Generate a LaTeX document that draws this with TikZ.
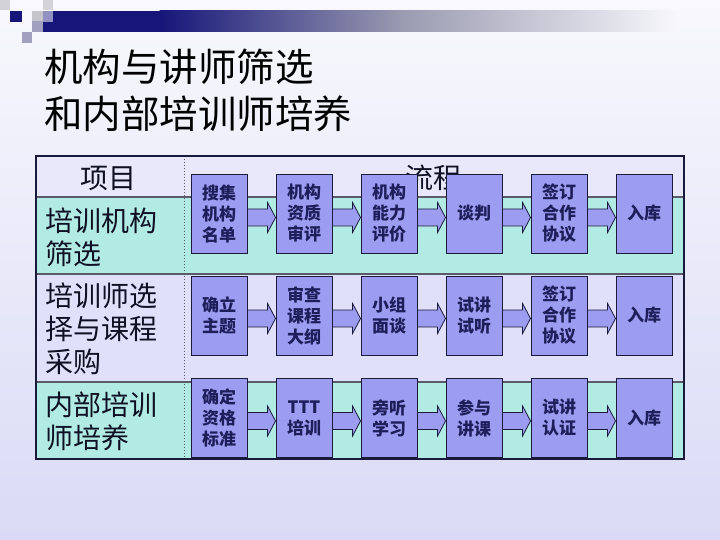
\documentclass[tikz,border=0pt]{standalone}
\usepackage{fontspec}
\setmainfont{Noto Sans CJK SC}
\usetikzlibrary{calc}
\definecolor{boxfill}{HTML}{9C9CF0}
\definecolor{boxline}{HTML}{1A1A3A}
\definecolor{boxtext}{HTML}{1E1E5A}
\definecolor{tealrow}{HTML}{B2EBE3}
\definecolor{lavrow}{HTML}{E0E0FA}
\definecolor{headrow}{HTML}{E8E8FA}
\definecolor{labeltext}{HTML}{101024}
\definecolor{navy}{HTML}{16167A}
\definecolor{gridgray}{HTML}{5A5A6A}
\definecolor{bgtop}{HTML}{F8F8FD}
\definecolor{bgbot}{HTML}{DADAF6}
\newcommand\blkarrow[3]{%
  \draw[blockarr] ($(#1.east)+(0,#3-8.5)$) -- ($(#2.west)+(-8,#3-8.5)$)
    -- ($(#2.west)+(-8,#3-15)$) -- ($(#2.west)+(0,#3)$)
    -- ($(#2.west)+(-8,#3+15)$) -- ($(#2.west)+(-8,#3+8.5)$)
    -- ($(#1.east)+(0,#3+8.5)$) -- cycle;}
\begin{document}
\begin{tikzpicture}[x=1pt,y=-1pt,
  flowbox/.style={draw=boxline, fill=boxfill, line width=0.9pt,
    minimum width=56pt, minimum height=79pt, inner sep=0pt, align=center,
    font=\fontsize{17}{21}\selectfont\bfseries, text=boxtext},
  blockarr/.style={draw=boxline, fill=boxfill, line width=0.8pt, line join=miter},
  rowlabel/.style={anchor=west, align=left, inner sep=0pt,
    font=\fontsize{28}{33}\selectfont, text=labeltext},
  headlabel/.style={inner sep=0pt, font=\fontsize{28}{33}\selectfont, text=labeltext}
]
\useasboundingbox (0,0) rectangle (720,540);
% background
\shade[top color=bgtop, bottom color=bgbot] (0,0) rectangle (720,540);
% top decoration
\fill[navy] (43,11) rectangle (160,32);
\shade[left color=navy, right color=navy!35!gray!60!bgtop] (159.5,11) rectangle (400,32);
\shade[left color=navy!35!gray!60!bgtop, right color=bgtop] (399.5,11) rectangle (680,32);
\fill[black!15!bgtop] (0,0) rectangle (10,10);
\fill[navy] (10,11) rectangle (22,22);
\fill[black!20!bgtop] (32,11) rectangle (43,21);
\fill[black!15!bgtop] (43,0) rectangle (53,10);
\fill[navy!45!bgtop] (43,11) rectangle (53,22);
\fill[navy!35!bgtop!80!gray] (32,21) rectangle (43,32);
\fill[navy!35!bgtop!80!gray] (22,32) rectangle (32,43);
% title
\node[anchor=west, align=left, inner sep=0pt, font=\fontsize{38.5}{47}\selectfont, text=black]
  (title) at (44,90.5) {机构与讲师筛选\\和内部培训师培养};
% table rows
\fill[headrow] (36,156) rectangle (684,197);
\fill[tealrow] (36,197) rectangle (684,274);
\fill[lavrow] (36,274) rectangle (684,382);
\fill[tealrow] (36,382) rectangle (684,459);
\draw[gridgray, line width=1.5pt] (36,197) -- (685,197);
\draw[gridgray, line width=1.5pt] (36,274) -- (685,274);
\draw[gridgray, line width=1.5pt] (36,382) -- (685,382);
\draw[gridgray, line width=1pt, dotted] (184,156) -- (184,459);
\draw[boxline, line width=2.5pt] (36,156) rectangle (684,459);
% header labels
\node[headlabel] (hxm) at (108,178) {项目};
\node[headlabel] (hlc) at (433,178) {流程};
% row labels
\node[rowlabel] (l1) at (45,237.5) {培训机构\\筛选};
\node[rowlabel] (l2) at (45,329) {培训师选\\择与课程\\采购};
\node[rowlabel] (l3) at (45,421.5) {内部培训\\师培养};
% row 1
\node[flowbox] (a1) at (219,213.5) {搜集\\机构\\名单};
\node[flowbox] (a2) at (304,213.5) {机构\\资质\\审评};
\node[flowbox] (a3) at (389,213.5) {机构\\能力\\评价};
\node[flowbox] (a4) at (474,213.5) {谈判};
\node[flowbox] (a5) at (559,213.5) {签订\\合作\\协议};
\node[flowbox] (a6) at (644,213.5) {入库};
% row 2
\node[flowbox] (b1) at (219,315.5) {确立\\主题};
\node[flowbox] (b2) at (304,315.5) {审查\\课程\\大纲};
\node[flowbox] (b3) at (389,315.5) {小组\\面谈};
\node[flowbox] (b4) at (474,315.5) {试讲\\试听};
\node[flowbox] (b5) at (559,315.5) {签订\\合作\\协议};
\node[flowbox] (b6) at (644,315.5) {入库};
% row 3
\node[flowbox] (c1) at (219,418) {确定\\资格\\标准};
\node[flowbox] (c2) at (304,418) {TTT\\培训};
\node[flowbox] (c3) at (389,418) {旁听\\学习};
\node[flowbox] (c4) at (474,418) {参与\\讲课};
\node[flowbox] (c5) at (559,418) {试讲\\认证};
\node[flowbox] (c6) at (644,418) {入库};
% arrows
\blkarrow{a1}{a2}{4}\blkarrow{a2}{a3}{4}\blkarrow{a3}{a4}{4}\blkarrow{a4}{a5}{4}\blkarrow{a5}{a6}{4}
\blkarrow{b1}{b2}{3}\blkarrow{b2}{b3}{3}\blkarrow{b3}{b4}{3}\blkarrow{b4}{b5}{3}\blkarrow{b5}{b6}{3}
\blkarrow{c1}{c2}{3}\blkarrow{c2}{c3}{3}\blkarrow{c3}{c4}{3}\blkarrow{c4}{c5}{3}\blkarrow{c5}{c6}{3}
\end{tikzpicture}
\end{document}
